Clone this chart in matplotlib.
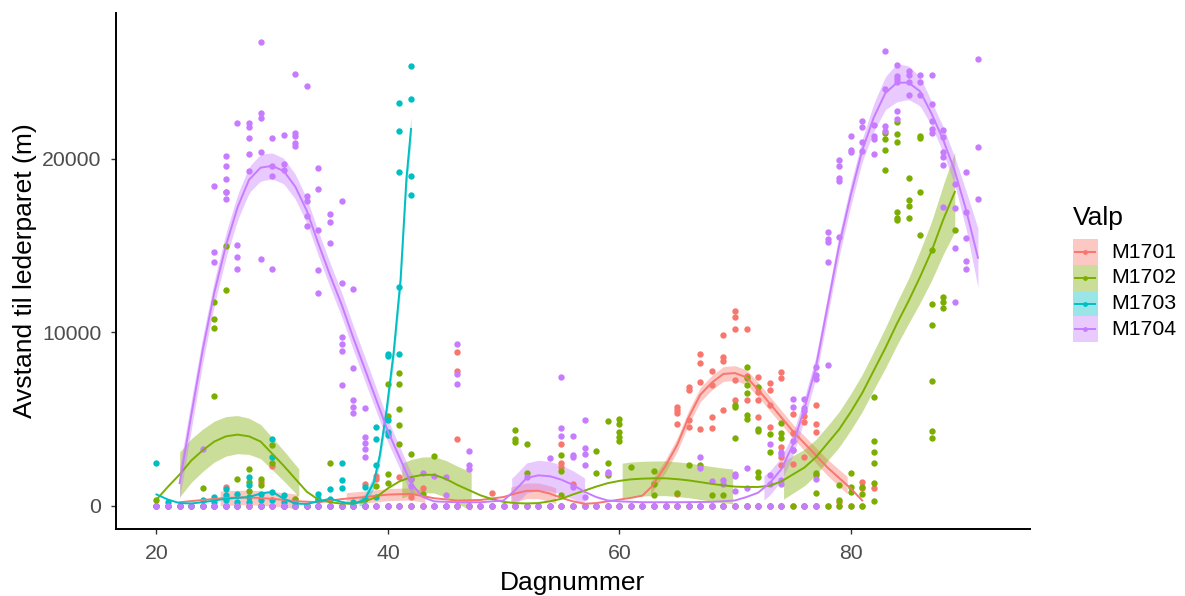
import numpy as np
import matplotlib
matplotlib.use("Agg")
import matplotlib.pyplot as plt
from matplotlib.patches import Rectangle
from matplotlib.lines import Line2D

plt.rcParams['font.family'] = ['Liberation Sans', 'DejaVu Sans']

valper = ["M1701", "M1702", "M1703", "M1704"]
farger = ["#F8766D", "#7CAE00", "#00BFC4", "#C77CFF"]

# avstand (m) per dagnummer, flere posisjoner per dag
m1701_obs = {
    20: [0], 21: [0], 22: [0], 23: [0], 24: [0], 25: [0], 26: [1100, 0], 27: [0],
    28: [500, 0], 29: [1370, 0], 30: [2290, 0], 31: [0], 32: [400, 0], 33: [0],
    34: [0], 35: [0], 36: [0], 37: [0], 38: [1250, 0], 39: [1710, 1520, 0], 40: [0],
    41: [1670, 0], 42: [500, 0], 43: [1000, 0], 44: [0], 45: [0],
    46: [8860, 7790, 3830, 0], 47: [0], 48: [0], 49: [750, 0], 50: [0], 51: [0],
    52: [0], 53: [0], 54: [0], 55: [3560, 2450, 2250, 0], 56: [1230, 0], 57: [0],
    58: [0], 59: [0], 60: [0], 61: [0], 62: [0], 63: [0], 64: [0],
    65: [5680, 5520, 5330, 4710, 700, 0], 66: [6830, 6670, 4940, 4560, 0],
    67: [8730, 8210, 7140, 4410, 0], 68: [7790, 6960, 5130, 4460, 0],
    69: [9820, 8560, 8360, 5520, 0], 70: [11240, 10900, 10210, 7250, 6100, 0],
    71: [10210, 7480, 6100, 0], 72: [7440, 6570, 6100, 5130, 0],
    73: [7060, 6670, 5810, 4560, 0], 74: [7730, 7350, 3400, 2830, 2350, 0],
    75: [5290, 4180, 3210, 2400, 0], 76: [5170, 4840, 2830, 0],
    77: [5790, 4710, 4270, 0], 78: [0], 79: [200, 0], 80: [0],
    81: [1380, 1000, 0], 82: [1000],
}
m1702_obs = {
    20: [330, 0], 21: [0], 22: [0], 23: [0], 24: [1020, 0],
    25: [11740, 10780, 10260, 6300, 0], 26: [18080, 15000, 12450, 0], 27: [1520, 0],
    28: [2090, 1370, 820, 0], 29: [1520, 1170, 0], 30: [3480, 2480, 0], 31: [0],
    32: [400, 0], 33: [0], 34: [400, 0], 35: [2480, 0], 36: [0], 37: [0], 38: [0],
    39: [1130, 0], 40: [7030, 5170, 1840, 1310, 0], 41: [7650, 7030, 5550, 4670, 3570, 0],
    42: [3000, 1560, 0], 43: [670, 0], 44: [2840, 0], 45: [0], 46: [0], 47: [0],
    48: [0], 49: [0], 50: [0], 51: [4380, 3820, 3670, 0], 52: [3570, 1900, 0],
    53: [0], 54: [0], 55: [2940, 2030, 630, 0], 56: [0], 57: [0],
    58: [3130, 1900, 0], 59: [4900, 2480, 1750, 0], 60: [5010, 4730, 4250, 3960, 3710, 0],
    61: [2230, 0], 62: [0], 63: [1980, 1270, 630, 0], 64: [0], 65: [750, 0],
    66: [2360, 0], 67: [2360, 0], 68: [600, 0], 69: [600, 0],
    70: [5780, 5670, 3930, 0], 71: [7980, 7350, 6960, 6480, 5230, 4980, 0],
    72: [6830, 4410, 4330, 1960, 1670, 0], 73: [4130, 3110, 0], 74: [4790, 4180, 3890, 0],
    75: [0], 76: [0], 77: [1900, 1770, 750, 0], 78: [0], 79: [1190, 330, 0],
    80: [1870, 1100, 810, 0], 81: [1100, 670, 0], 82: [6290, 3750, 3110, 2480, 1330, 290],
    83: [21510, 21150, 20510, 19360], 84: [22110, 21420, 20960, 16960, 16570, 16480],
    85: [18920, 17630, 17300, 16610], 86: [21320, 21190, 18070, 15610],
    87: [14750, 11610, 10420, 7190, 4330, 3890], 88: [12050, 11770, 11380], 89: [15900],
}
m1703_obs = {
    20: [2480, 0], 21: [200, 0], 22: [0], 23: [0], 24: [300, 0], 25: [500, 200, 0],
    26: [980, 600, 300, 0], 27: [700, 200, 0], 28: [1650, 1170, 500, 200],
    29: [700, 300, 0], 30: [3860, 2810, 800, 300], 31: [600, 200, 0], 32: [200, 0],
    33: [0], 34: [690, 300, 0], 35: [980, 400, 0], 36: [2480, 1460, 1020, 0],
    37: [200, 0], 38: [1080, 400, 0], 39: [4530, 3820, 2320, 500],
    40: [8760, 8630, 4920, 4250, 4050], 41: [23210, 21600, 19230, 12600, 8760],
    42: [25380, 23460, 19040, 17940],
}
m1704_obs = {
    20: [0], 21: [0], 22: [0], 23: [0], 24: [3250, 0], 25: [18460, 14620, 14050, 0],
    26: [20190, 19620, 18850, 18080, 17700, 0], 27: [22060, 15040, 14370, 13660, 0],
    28: [22060, 21830, 21210, 20310, 19330, 0], 29: [26760, 22630, 22360, 20420, 14240, 0],
    30: [21210, 19620, 19000, 13660, 0], 31: [21400, 19710, 19390, 0],
    32: [24920, 21480, 21310, 20920, 20770, 0], 33: [24230, 17890, 17600, 16730, 16120, 0],
    34: [19480, 18270, 15910, 13620, 12280, 0], 35: [16830, 16370, 15140, 0],
    36: [17560, 12840, 9720, 9340, 8950, 6960, 0], 37: [12510, 7940, 6070, 5720, 5360, 0],
    38: [5630, 3960, 3610, 3270, 2810, 0], 39: [0], 40: [0], 41: [0],
    42: [1520, 1130, 0], 43: [1900, 0], 44: [1710, 0], 45: [1650, 590, 0],
    46: [9340, 7590, 7010, 0], 47: [3130, 2360, 2110, 0], 48: [0], 49: [0], 50: [0],
    51: [0], 52: [1650, 0], 53: [0], 54: [2750, 0], 55: [7420, 4480, 4020, 0],
    56: [4020, 2900, 2810, 1080, 0], 57: [4920, 3330, 3000, 2360, 480, 0], 58: [0],
    59: [1940, 1900, 0], 60: [0], 61: [0], 62: [0], 63: [0], 64: [0], 65: [0], 66: [0],
    67: [2810, 2170, 0], 68: [1400, 0], 69: [1460, 1270, 0], 70: [1840, 1710, 820, 0],
    71: [2170, 1020, 0], 72: [0], 73: [3570, 1750, 1270, 0], 74: [3090, 2960, 1460, 1270, 0],
    75: [6130, 5690, 3710, 3230], 76: [6130, 5630, 5440, 0], 77: [7990, 7550, 7280, 1520, 0],
    78: [15780, 15390, 15200, 14050, 8090], 79: [19960, 19620, 18890, 18750, 15470],
    80: [21310, 20540, 20420], 81: [22170, 21830, 20960, 20450],
    82: [21960, 21340, 21150, 20310], 83: [26210, 24030, 21920, 21630],
    84: [25420, 24770, 24600, 24420, 22750, 22310], 85: [25090, 24840, 24460, 23710],
    86: [24840, 24420, 23710], 87: [24840, 23190, 22210, 21730, 21500],
    88: [21670, 21250, 20420, 20100, 19670, 17250], 89: [18560, 17180, 14890, 11740],
    90: [19230, 16930, 15450, 14120, 13660], 91: [25750, 20710, 17700],
}

# glattet kurve (dag, tilpasset verdi)
m1701_fit_dag = [22, 24, 26, 28, 30, 32, 34, 36, 38, 40, 42, 44, 46, 48, 50, 51, 52, 53, 54,
                 55, 56, 57, 58, 59, 60, 61, 62, 62.8, 64, 65, 66, 67, 68, 69, 70, 71, 72,
                 73, 74, 75, 76, 77, 78, 79, 80, 81]
m1701_fit = [200, 330, 450, 480, 400, 260, 200, 380, 500, 640, 680, 430, 300, 330, 500, 700,
             860, 860, 700, 450, 250, 110, 150, 250, 350, 450, 580, 1100, 2300, 3500, 5100,
             6400, 7100, 7600, 7650, 7400, 6700, 5900, 5100, 4300, 3600, 2900, 2200, 1600,
             1000, 300]
m1702_fit_dag = list(range(20, 90))
m1702_fit = [350, 1100, 1800, 2600, 3200, 3700, 4000, 4100, 4000, 3700, 3000, 2300, 1550, 800,
             350, 200, 120, 130, 250, 500, 1000, 1400, 1650, 1780, 1780, 1550, 1200, 900, 600,
             380, 220, 150, 130, 150, 250, 400, 650, 870, 1100, 1300, 1430, 1520, 1560, 1580,
             1580, 1530, 1460, 1360, 1260, 1170, 1100, 1080, 1080, 1150, 1400, 1800, 2200,
             2800, 3600, 4400, 5400, 6500, 7800, 9100, 10500, 11800, 13200, 14700, 16500, 18100]
m1703_fit_dag = [20, 21, 22, 23, 24, 25, 26, 27, 28, 29, 30, 31, 32, 33, 34, 35, 36, 37, 38,
                 38.8, 39.3, 39.9, 40.5, 41.1, 41.6, 42.0]
m1703_fit = [650, 350, 150, 130, 200, 300, 400, 450, 500, 700, 800, 400, 120, 100, 250, 400,
             220, 100, 350, 1370, 2900, 5590, 8860, 13080, 18850, 21730]
m1704_fit_dag = [22, 23, 24, 25, 26, 27, 28, 29, 30, 31, 32, 33, 34, 35, 36, 37, 38, 39, 40,
                 41, 42, 43, 44, 46, 48, 50, 51, 52, 53, 54, 55, 56, 57, 58, 59, 60, 62, 65,
                 68, 70, 71, 72, 73, 74, 75, 76, 77, 78, 79, 80, 81, 82, 83, 84, 85, 86, 87,
                 88, 89, 90, 91]
m1704_fit = [1300, 5200, 9000, 12300, 15000, 17200, 18800, 19500, 19600, 19300, 18400, 17000,
             15100, 13300, 11600, 9700, 7900, 6100, 4300, 2800, 1300, 500, 250, 200, 200, 300,
             900, 1600, 1750, 1700, 1500, 1200, 800, 500, 300, 250, 200, 200, 220, 300, 500,
             750, 1300, 2100, 3500, 5600, 8000, 11500, 15000, 17900, 20500, 22400, 23800,
             24400, 24400, 23900, 22600, 21100, 19300, 17000, 14300]

# konfidensbånd: liste av segmenter med (dag, halv bredde)
m1701_band = [[(25.5, 420), (32.2, 420)], [(36.4, 350), (43.2, 350)],
              [(50.6, 450), (54.5, 450)],
              [(62.7, 350), (66, 400), (70, 430), (75, 400), (79.7, 500)]]
m1702_band = [[(22, 1300), (27, 1100), (32.3, 800)], [(41.2, 1000), (47.2, 1100)],
              [(60.25, 1000), (69.8, 1000)],
              [(74.2, 1100), (78, 1000), (82, 1100), (85, 1300), (87, 1700), (89, 2300)]]
m1703_band = [[(37.5, 250), (39, 400), (40, 500), (41, 600), (42, 700)]]
m1704_band = [[(22, 900), (25, 700), (29, 770), (33, 700), (38, 700), (42.2, 600)],
              [(50.7, 870), (53, 870), (57, 800)],
              [(72.5, 700), (75, 650), (78, 600), (81, 650), (84, 1100), (87, 700),
               (89, 800), (90, 1100), (91, 1700)]]

obs = [m1701_obs, m1702_obs, m1703_obs, m1704_obs]
fits = [(m1701_fit_dag, m1701_fit), (m1702_fit_dag, m1702_fit),
        (m1703_fit_dag, m1703_fit), (m1704_fit_dag, m1704_fit)]
bands = [m1701_band, m1702_band, m1703_band, m1704_band]

W, H = 1185, 596
fig = plt.figure(figsize=(W / 100, H / 100), dpi=100)
ax = fig.add_axes([116 / W, 1 - 529 / H, (1030 - 116) / W, (529 - 13.3) / H])

for farge, b, (fd, fv) in zip(farger, bands, fits):
    for seg in b:
        sd = [p[0] for p in seg]
        se = [p[1] for p in seg]
        xs = np.linspace(sd[0], sd[-1], 80)
        mid = np.interp(xs, fd, fv)
        half = np.interp(xs, sd, se)
        ax.fill_between(xs, mid - half, mid + half, color=farge, alpha=0.4, lw=0, zorder=1)

for farge, o in zip(farger, obs):
    xs = [d for d, vals in o.items() for _ in vals]
    ys = [v for vals in o.values() for v in vals]
    ax.scatter(xs, ys, s=21, color=farge, lw=0, zorder=2)

for farge, (fd, fv) in zip(farger, fits):
    ax.plot(fd, fv, color=farge, lw=1.4, zorder=3)

ax.set_xlim(16.5, 95.5)
ax.set_ylim(-1344, 28400)
ax.set_xticks([20, 40, 60, 80])
ax.set_yticks([0, 10000, 20000])
for side in ["top", "right"]:
    ax.spines[side].set_visible(False)
for side in ["left", "bottom"]:
    ax.spines[side].set_linewidth(1.4)
ax.tick_params(length=3.6, width=1.0, color="#333333", labelcolor="#4D4D4D",
               labelsize=15.3)
ax.tick_params(axis="y", pad=7)
ax.tick_params(axis="x", pad=7)

fig.text(25 / W, 1 - 271 / H, "Avstand til lederparet (m)", rotation=90,
         ha="center", va="center", fontsize=19)
fig.text(573 / W, 1 - 590 / H, "Dagnummer", ha="center", va="baseline", fontsize=19)

# forklaring
fig.text(1073 / W, 1 - 225 / H, "Valp", ha="left", va="baseline", fontsize=19)
key_h = 25.7
for i, (navn, farge) in enumerate(zip(valper, farger)):
    top = 239.3 + i * key_h
    fig.patches.append(Rectangle((1072.7 / W, 1 - (top + key_h) / H), 25 / W, key_h / H,
                                 transform=fig.transFigure, color=farge, alpha=0.4, lw=0))
    yc = 1 - (top + key_h / 2) / H
    fig.lines.append(Line2D([1075 / W, 1095 / W], [yc, yc], transform=fig.transFigure,
                            color=farge, lw=1.4))
    fig.lines.append(Line2D([1085 / W], [yc], transform=fig.transFigure, color=farge,
                            marker="o", ms=3.5, mew=0))
    fig.text(1111.7 / W, yc, navn, ha="left", va="center", fontsize=15.3)

fig.savefig("out.png", dpi=100)
